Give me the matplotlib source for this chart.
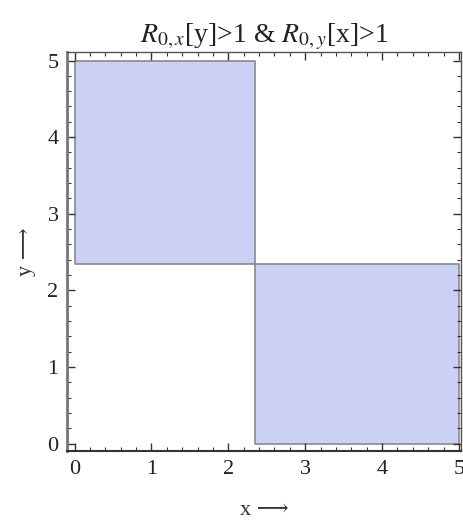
import matplotlib
matplotlib.use("Agg")
import matplotlib.pyplot as plt
from matplotlib.ticker import MultipleLocator

plt.rcParams['font.family'] = ['Liberation Serif', 'DejaVu Serif']
plt.rcParams['mathtext.fontset'] = 'stix'

# region where both R0 > 1 (threshold)
threshold = 2.35
region1_x = [0, threshold]
region1_y = [threshold, 5]
region2_x = [threshold, 5]
region2_y = [0, threshold]
x_ticks = [0, 1, 2, 3, 4, 5]
y_ticks = [0, 1, 2, 3, 4, 5]

fig = plt.figure(figsize=(4.64, 5.21), dpi=100)
ax = fig.add_axes([0.144, 0.134, 0.850, 0.766])

fill = '#cbd0f5'
edge = '#8a8a8a'
for xs, ys in [(region1_x, region1_y), (region2_x, region2_y)]:
    ax.fill_between(xs, ys[0], ys[1], facecolor=fill, edgecolor=edge, linewidth=1.2)

ax.set_xlim(-0.1, 5.03)
ax.set_ylim(-0.1, 5.11)
ax.set_xticks(x_ticks)
ax.set_yticks(y_ticks)
ax.xaxis.set_minor_locator(MultipleLocator(0.2))
ax.yaxis.set_minor_locator(MultipleLocator(0.2))
ax.tick_params(which='both', direction='in', top=True, right=True, labelsize=16,
               color='#333333', labelcolor='#222222')
ax.tick_params(which='major', length=6, width=1.0, pad=6)
ax.tick_params(which='minor', length=3, width=0.8)

for s in ax.spines.values():
    s.set_color('#555555')
    s.set_linewidth(1.0)
ax.spines['left'].set_linewidth(2.0)
ax.spines['left'].set_color('#777777')
ax.spines['bottom'].set_linewidth(1.5)
ax.spines['bottom'].set_color('#333333')

ax.set_title(r'$R_{0,x}$[y]>1 & $R_{0,y}$[x]>1', fontsize=20, color='#222222', pad=6)
ax.set_xlabel('x \u27f6', fontsize=16, color='#333333', labelpad=16)
ax.set_ylabel('y \u27f6', fontsize=16, color='#333333', labelpad=8)

fig.savefig('out.png', dpi=100)
